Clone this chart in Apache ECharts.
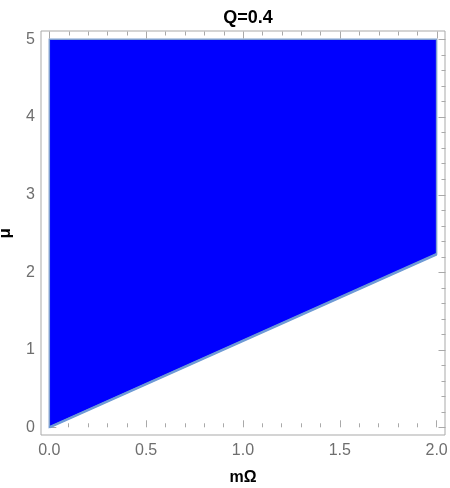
<!DOCTYPE html>
<html>
<head>
<meta charset="utf-8">
<script src="https://cdn.jsdelivr.net/npm/echarts@6/dist/echarts.min.js"></script>
<style>
  html, body { margin: 0; padding: 0; background: #ffffff; }
  #regionChart { width: 450px; height: 488px; }
</style>
</head>
<body>
<div id="regionChart"></div>
<script>
  // region Q=0.4: filled between lower boundary line and mu = 5
  const regionX = [0, 2, 2, 0];
  const regionMu = [0, 2.23, 5, 5];
  const boundaryX = [0, 2];
  const boundaryMu = [0, 2.23];
  const xTicks = [0, 0.5, 1, 1.5, 2];
  const muTicks = [0, 1, 2, 3, 4, 5];

  // frame edges in data units (Mathematica padding)
  const xRange = [-0.043, 2.043];
  const muRange = [-0.099, 5.107];

  // minor ticks: 0.1 on x, 0.2 on mu
  const xMinor = [];
  for (let i = 1; i < 20; i++) if (i % 5) xMinor.push(i / 10);
  const muMinor = [];
  for (let i = 1; i < 25; i++) if (i % 5) muMinor.push(i / 5);

  // mirror ticks on top and right frame: [x, mu, side, length]  side 1 top, 3 right
  const tickData = [];
  xTicks.forEach(v => tickData.push([v, muRange[1], 1, 7]));
  xMinor.forEach(v => tickData.push([v, muRange[1], 1, 4]));
  muTicks.forEach(v => tickData.push([xRange[1], v, 3, 7]));
  muMinor.forEach(v => tickData.push([xRange[1], v, 3, 4]));

  const font = 'Liberation Sans, Arial, sans-serif';
  const gray = '#6e6e6e';
  const frameColor = '#a9a9a9';

  const myChart = echarts.init(document.getElementById('regionChart'), null, {renderer: 'canvas'});

  function tickAxis(extra) {
    return Object.assign({
      type: 'value',
      gridIndex: 1,
      axisLine: {show: false},
      splitLine: {show: false},
      axisTick: {show: true, inside: true, length: 7, lineStyle: {color: frameColor}},
      minorTick: {show: true, splitNumber: 5, length: 4, lineStyle: {color: frameColor}},
      axisLabel: {show: false}
    }, extra);
  }

  const chartOption = {
    animation: false,
    title: {
      text: 'Q=0.4',
      left: 243,
      textAlign: 'center',
      top: 4,
      textStyle: {fontFamily: font, fontSize: 18, fontWeight: 'bold', color: '#000'}
    },
    grid: [
      {left: 41, top: 31, width: 404, height: 404, show: true, borderColor: frameColor, borderWidth: 1,
        backgroundColor: 'transparent', outerBoundsMode: 'none', containLabel: false},
      {left: 49.3, top: 39.3, right: 13.4, bottom: 60.7, outerBoundsMode: 'none', containLabel: false}
    ],
    xAxis: [
      {type: 'value', gridIndex: 0, show: false, min: 0, max: 1},
      tickAxis({
        position: 'bottom', offset: 7.7, min: xTicks[0], max: xTicks[xTicks.length - 1], interval: 0.5,
        name: 'mΩ', nameLocation: 'middle', nameGap: 35,
        nameTextStyle: {fontFamily: font, fontSize: 16, fontWeight: 'bold', color: '#000'},
        axisLabel: {show: true, margin: 8, fontFamily: font, fontSize: 16, color: gray, formatter: v => v.toFixed(1)}
      })
    ],
    yAxis: [
      {type: 'value', gridIndex: 0, show: false, min: 0, max: 1},
      tickAxis({
        position: 'left', offset: 8.3, min: muTicks[0], max: muTicks[muTicks.length - 1], interval: 1,
        name: 'μ', nameLocation: 'middle', nameGap: 27,
        nameTextStyle: {fontFamily: font, fontSize: 17, fontWeight: 'bold', color: '#000'},
        axisLabel: {show: true, margin: 6, fontFamily: font, fontSize: 16, color: gray}
      })
    ],
    series: [
      {
        type: 'custom',
        xAxisIndex: 1,
        yAxisIndex: 1,
        clip: false,
        data: [0],
        renderItem: function (params, api) {
          const pts = regionX.map((x, i) => api.coord([x, regionMu[i]]));
          return {
            type: 'polygon',
            shape: {points: pts},
            style: {fill: '#0000ff', stroke: '#7f9fd0', lineWidth: 1.5}
          };
        }
      },
      {
        type: 'line',
        xAxisIndex: 1,
        yAxisIndex: 1,
        symbol: 'none',
        data: boundaryX.map((x, i) => [x, boundaryMu[i]]),
        lineStyle: {color: '#6e9ad6', width: 2.5}
      },
      {
        type: 'custom',
        xAxisIndex: 1,
        yAxisIndex: 1,
        silent: true,
        clip: false,
        z: 5,
        data: tickData,
        renderItem: function (params, api) {
          const p = api.coord([api.value(0), api.value(1)]);
          const side = api.value(2), len = api.value(3);
          const x = Math.round(p[0]) + 0.5, y = Math.round(p[1]) + 0.5;
          return {
            type: 'line',
            shape: side === 1 ? {x1: x, y1: y, x2: x, y2: y + len} : {x1: x, y1: y, x2: x - len, y2: y},
            style: {stroke: frameColor, lineWidth: 1}
          };
        }
      }
    ]
  };

  myChart.setOption(chartOption);
</script>
</body>
</html>
